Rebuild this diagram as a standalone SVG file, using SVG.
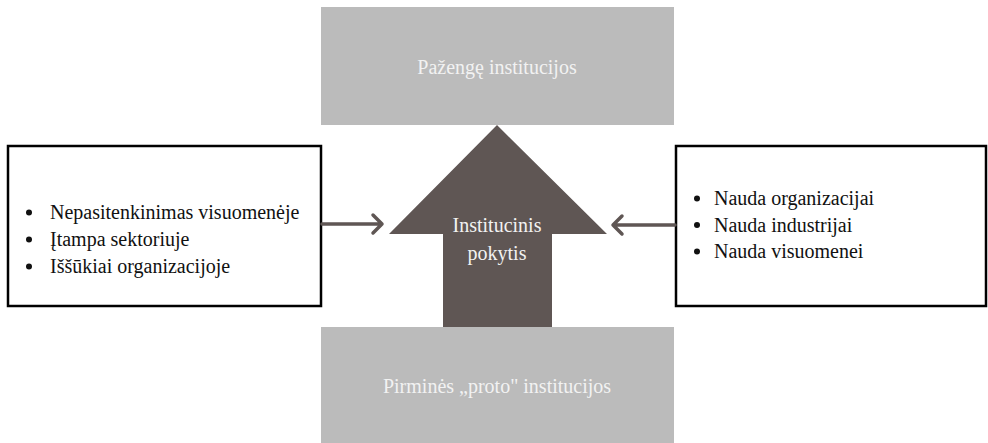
<svg xmlns="http://www.w3.org/2000/svg" width="988" height="443" viewBox="0 0 988 443">
  <style>
    .stage { fill: #bbbbbb; }
    .stage-label { font-family: "Liberation Serif", "Times New Roman", serif; font-size: 20px; fill: #f2f2f2; text-anchor: middle; }
    .box { fill: #ffffff; stroke: #000000; stroke-width: 2.5; }
    .item { font-family: "Liberation Serif", "Times New Roman", serif; font-size: 20px; fill: #111111; }
    .bullet { fill: #111111; }
    .core { fill: #5f5654; }
    .core-label { font-family: "Liberation Serif", "Times New Roman", serif; font-size: 20px; fill: #f2f2f2; text-anchor: middle; }
    .link { fill: none; stroke: #5f5654; stroke-width: 3.5; stroke-linecap: round; stroke-linejoin: round; }
  </style>

  <!-- upper stage -->
  <g id="advanced">
    <rect class="stage" x="321" y="7" width="353" height="118"/>
    <text class="stage-label" x="497" y="74">Pažengę institucijos</text>
  </g>

  <!-- lower stage -->
  <g id="proto">
    <rect class="stage" x="321" y="327" width="353" height="116"/>
    <text class="stage-label" x="497" y="393">Pirminės „proto" institucijos</text>
  </g>

  <!-- central upward arrow -->
  <g id="change">
    <polygon class="core" points="497,125 607,234 552,234 552,327 443,327 443,234 389,234"/>
    <text class="core-label" x="497" y="232">Institucinis</text>
    <text class="core-label" x="497" y="260">pokytis</text>
  </g>

  <!-- pressures -->
  <g id="drivers">
    <rect class="box" x="8" y="146" width="313" height="160"/>
    <circle class="bullet" cx="29" cy="212.5" r="3"/>
    <circle class="bullet" cx="29" cy="239.5" r="3"/>
    <circle class="bullet" cx="29" cy="266.5" r="3"/>
    <text class="item" x="50" y="219">Nepasitenkinimas visuomenėje</text>
    <text class="item" x="50" y="246">Įtampa sektoriuje</text>
    <text class="item" x="50" y="273">Iššūkiai organizacijoje</text>
  </g>

  <!-- benefits -->
  <g id="benefits">
    <rect class="box" x="676" y="146" width="310" height="160"/>
    <circle class="bullet" cx="697" cy="198.5" r="3"/>
    <circle class="bullet" cx="697" cy="225" r="3"/>
    <circle class="bullet" cx="697" cy="251.5" r="3"/>
    <text class="item" x="714" y="205">Nauda organizacijai</text>
    <text class="item" x="714" y="231.5">Nauda industrijai</text>
    <text class="item" x="714" y="258">Nauda visuomenei</text>
  </g>

  <!-- connectors -->
  <g id="connectors">
    <path class="link" d="M322,224 H382 M373,215 L382,224 L373,233"/>
    <path class="link" d="M675,225 H613 M622,216 L613,225 L622,234"/>
  </g>
</svg>
